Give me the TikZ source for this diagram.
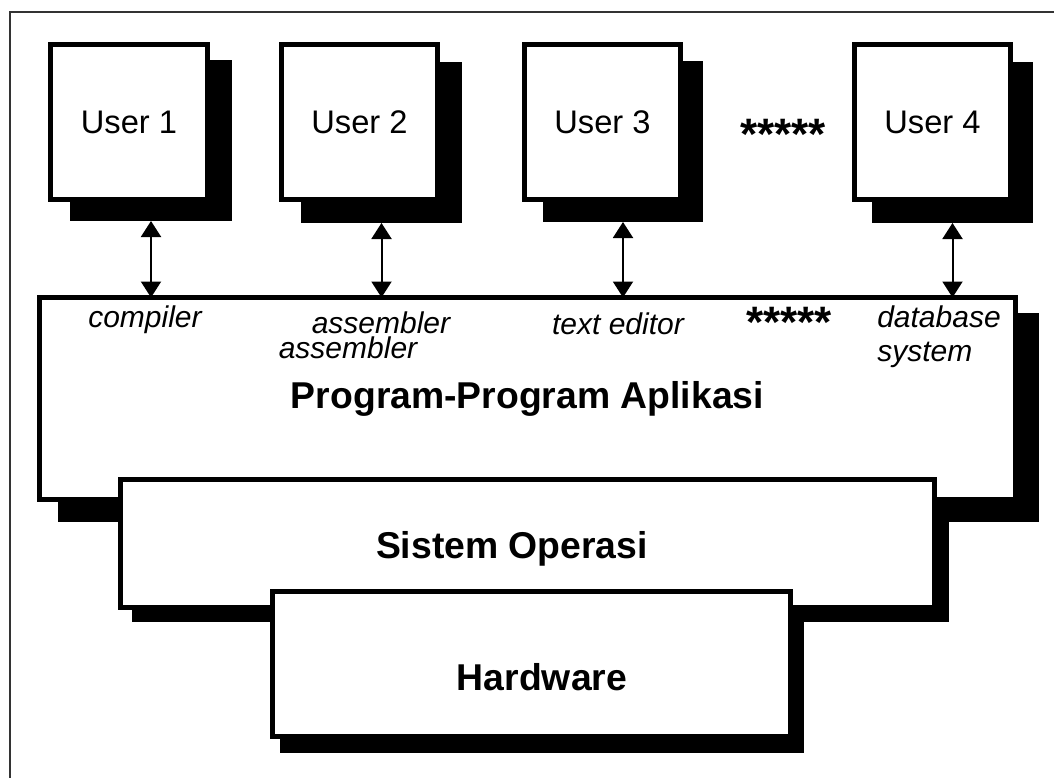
\documentclass[tikz,border=0pt]{standalone}
\usepackage{fontspec}
\setmainfont{Liberation Sans}
\usetikzlibrary{arrows.meta,fit}
\begin{document}
\begin{tikzpicture}[x=0.75pt,y=-0.75pt,
  boxb/.style={draw=black,fill=white,line width=3.75pt,inner sep=0pt,outer sep=0pt},
  shad/.style={fill=black,draw=none,inner sep=0pt,outer sep=0pt},
  usertxt/.style={font=\fontsize{24.5}{29}\selectfont,inner sep=0pt},
  lbl/.style={font=\fontsize{22.5}{27}\selectfont\itshape,inner sep=0pt,anchor=base},
  lblw/.style={lbl,anchor=base west},
  big/.style={font=\fontsize{28}{33}\selectfont\bfseries,inner sep=0pt,anchor=base},
  stars/.style={font=\fontsize{33}{40}\selectfont\bfseries,inner sep=0pt,anchor=base},
  biarrow/.style={line width=1.5pt,{Triangle[width=15pt,length=12pt]}-{Triangle[width=15pt,length=12pt]}}
]
\useasboundingbox (0,0) rectangle (1054,778);
\fill[white] (0,0) rectangle (1054,778);
\begin{scope}
\clip (0,0) rectangle (1054,778);
\draw[black!80,line width=1.5pt] (10,12) rectangle (1080,800);
\end{scope}

% users
\node[shad,fit={(70,60)(232,221)}] (s1) {};
\node[boxb,fit={(50.5,44.5)(207.5,199.5)}] (u1) {};
\node[usertxt] (t1) at (u1.center) {User 1};

\node[shad,fit={(301,62)(462,223)}] (s2) {};
\node[boxb,fit={(281.5,44.5)(437.5,199.5)}] (u2) {};
\node[usertxt] (t2) at (u2.center) {User 2};

\node[shad,fit={(543,61)(703,222)}] (s3) {};
\node[boxb,fit={(524.5,44.5)(680.5,199.5)}] (u3) {};
\node[usertxt] (t3) at (u3.center) {User 3};

\node[shad,fit={(872,62)(1033,223)}] (s4) {};
\node[boxb,fit={(854.5,44.5)(1010.5,199.5)}] (u4) {};
\node[usertxt] (t4) at (u4.center) {User 4};

\node[stars] (st1) at (783,149) {*****};

% layers: shadows first
\node[shad,fit={(58,313)(1039,522)}] (appS) {};
\node[shad,fit={(132,489)(949,622)}] (osS) {};
\node[shad,fit={(280,603)(804,753)}] (hwS) {};
\node[boxb,fit={(39.5,297.5)(1015.5,499.5)}] (app) {};
\node[boxb,fit={(120.5,479.5)(934.5,607.5)}] (os) {};
\node[boxb,fit={(272.5,591.5)(790.5,736.5)}] (hw) {};

% arrows
\draw[biarrow] (s1.south) -- (s1.south |- app.north);
\draw[biarrow] (s2.south) -- (s2.south |- app.north);
\draw[biarrow] (s3.south) -- (s3.south |- app.north);
\draw[biarrow] (s4.south) -- (s4.south |- app.north);

% labels
\node[lbl] (l1) at (145,327) {compiler};
\node[lbl] (l2a) at (381,333) {assembler};
\node[lbl] (l2b) at (348,358) {assembler};
\node[lbl] (l3) at (618,334) {text editor};
\node[stars] (st2) at (789,337) {*****};
\node[lblw] (l4a) at (877,327) {database};
\node[lblw] (l4b) at (877,361) {system};

\node[big] (tapp) at (527.5,408) {Program-Program Aplikasi};
\node[big] (tos) at (512,558) {Sistem Operasi};
\node[big] (thw) at (542,690) {Hardware};
\end{tikzpicture}
\end{document}
